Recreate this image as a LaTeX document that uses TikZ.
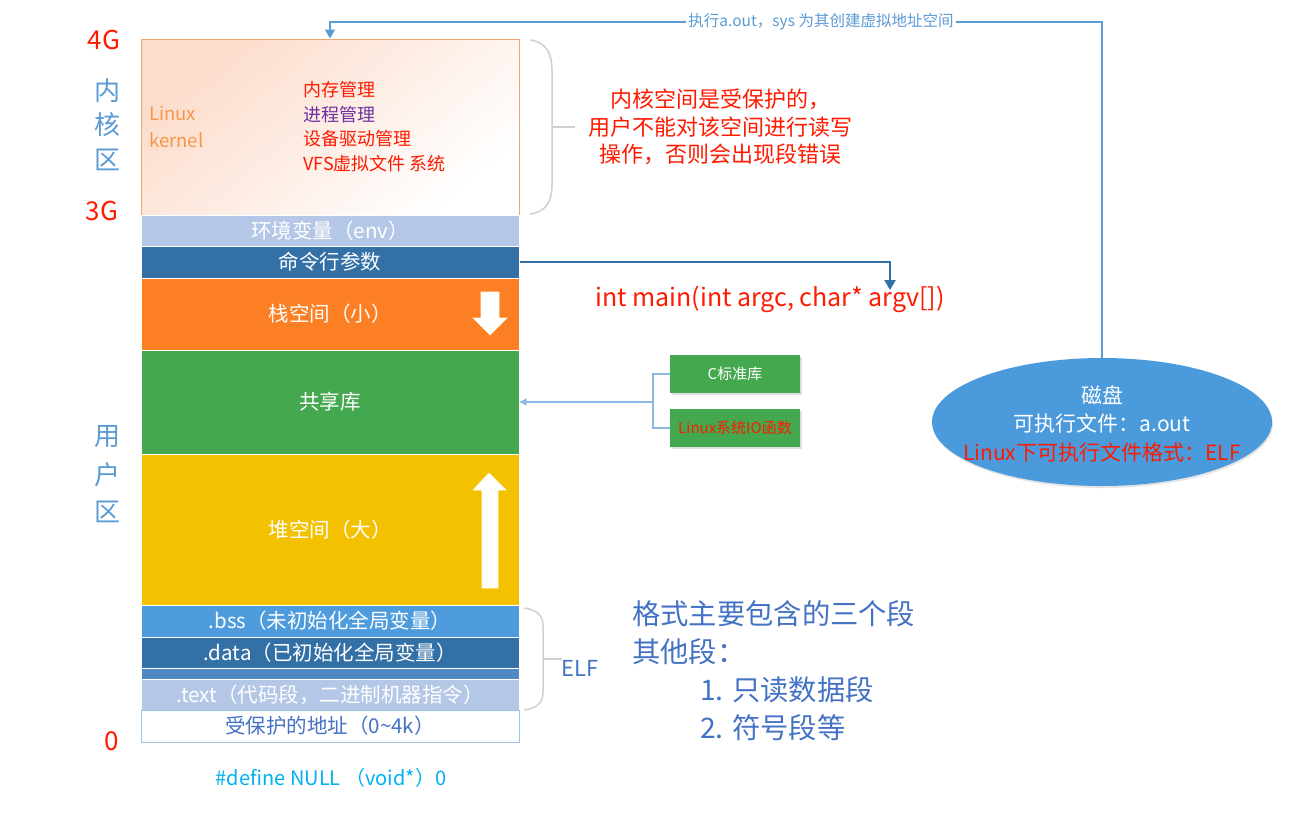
\documentclass[tikz,border=0pt]{standalone}
\usepackage{fontspec}
\setmainfont{Noto Sans CJK SC}
\usetikzlibrary{shapes.geometric,shadows,arrows.meta}
\definecolor{kborder}{HTML}{F4A36C}
\definecolor{kfill}{HTML}{FCDCCB}
\definecolor{lblue}{HTML}{B4C7E7}
\definecolor{dblue}{HTML}{3270A5}
\definecolor{sorange}{HTML}{FD7F23}
\definecolor{sgreen}{HTML}{44A84F}
\definecolor{hyellow}{HTML}{F3C100}
\definecolor{bssblue}{HTML}{4E9CDD}
\definecolor{thinblue}{HTML}{5088C4}
\definecolor{pborder}{HTML}{9DC3E6}
\definecolor{tblue}{HTML}{4472C4}
\definecolor{zblue}{HTML}{5B9BD5}
\definecolor{cyanb}{HTML}{00B0F0}
\definecolor{kred}{HTML}{FF1A00}
\definecolor{kpurple}{HTML}{7030A0}
\definecolor{korange}{HTML}{F79646}
\definecolor{diskblue}{HTML}{4A9ADC}
\definecolor{bracegray}{HTML}{D0D0D0}
\newcommand{\fs}[1]{\fontsize{#1}{#1}\selectfont}
\begin{document}
\begin{tikzpicture}[x=1pt,y=-1pt,
  band/.style={draw=white, line width=1pt, minimum width=378pt, inner sep=0pt, text=white, font=\fs{20.5}},
  zone/.style={text=zblue, font=\fs{26}},
  mark4g/.style={text=kred, font=\fs{26}},
  klist/.style={anchor=west, inner sep=0pt, text=kred, font=\fs{18}},
  rtext/.style={anchor=west, inner sep=0pt, text=tblue, font=\fs{28.3}},
  brace/.style={draw=bracegray, line width=1.5pt},
  libbox/.style={fill=sgreen, minimum width=130pt, minimum height=38pt, inner sep=0pt, font=\fs{15}, drop shadow={opacity=0.25, shadow xshift=2pt, shadow yshift=-2pt}},
  libline/.style={draw=zblue!70, line width=1.2pt},
  whitearrow/.style={fill=white, draw=white!90!yellow, line width=0.6pt},
  disktext/.style={text=white, font=\fs{21}, inner sep=0pt}
]
\useasboundingbox (0,0) rectangle (1303,817);
\fill[white] (0,0) rectangle (1303,817);

% kernel box
\node[draw=kborder, line width=1pt, minimum width=378pt, minimum height=176pt, inner sep=0pt,
      top color=kfill, bottom color=white, shading angle=40] (kernel) at (330,127) {};
\node[anchor=west, inner sep=0pt, text=korange, font=\fs{18.5}] (klinux) at (149,113) {Linux};
\node[anchor=west, inner sep=0pt, text=korange, font=\fs{18.5}] (kkernel) at (149,140) {kernel};
\node[klist] (k1) at (303,90) {内存管理};
\node[klist, text=kpurple] (k2) at (303,115) {进程管理};
\node[klist] (k3) at (303,139) {设备驱动管理};
\node[klist] (k4) at (303,164) {VFS虚拟文件 系统};

% bands
\node[band, fill=lblue, minimum height=31pt] (env) at (330,230.5) {环境变量（env）};
\node[band, fill=dblue, minimum height=32pt] (cmd) at (330,262) {命令行参数};
\node[band, fill=sorange, minimum height=72pt] (stack) at (330,314) {栈空间（小）};
\node[band, fill=sgreen, minimum height=104pt] (shared) at (330,402) {共享库};
\node[band, fill=hyellow, minimum height=151pt] (heap) at (330,529.5) {堆空间（大）};
\node[band, fill=bssblue, minimum height=32pt] (bss) at (330,621) {.bss（未初始化全局变量）};
\node[band, fill=dblue, minimum height=31pt] (data) at (330,652.5) {.data（已初始化全局变量）};
\node[band, fill=thinblue, minimum height=11pt] (thin) at (330,673.5) {};
\node[band, fill=lblue, minimum height=31pt] (text) at (330,694.5) {.text（代码段，二进制机器指令）};
\node[band, fill=white, draw=pborder, text=tblue, minimum height=32pt] (prot) at (330,726) {受保护的地址（0\textasciitilde 4k）};

% white arrows
\draw[whitearrow] (481,292) -- (499,292) -- (499,318) -- (507,318) -- (490,335) -- (473,318) -- (481,318) -- cycle;
\draw[whitearrow] (482,588) -- (498,588) -- (498,490) -- (506,490) -- (489,473) -- (473,490) -- (482,490) -- cycle;

% left labels
\node[mark4g] (l4g) at (104,40) {4G};
\node[mark4g] (l3g) at (102,211) {3G};
\node[mark4g] (l0) at (112,741) {0};
\node[zone] (z1) at (107,91) {内};
\node[zone] (z2) at (107,125) {核};
\node[zone] (z3) at (107,160) {区};
\node[zone] (u1) at (107,437) {用};
\node[zone] (u2) at (107,475) {户};
\node[zone] (u3) at (107,512) {区};
\node[text=cyanb, font=\fs{20}] (null) at (331,778) {\#define NULL （void*）0};

% kernel brace
\draw[brace] (530,40) .. controls (547,42) and (552,55) .. (552,70) -- (552,185) .. controls (552,200) and (547,212) .. (530,214);
\draw[brace] (552,127) -- (575,127);
\node[align=center, text=kred, font=\fontsize{22}{27.5}\selectfont] (kwarn) at (720,127) {内核空间是受保护的，\\用户不能对该空间进行读写\\操作，否则会出现段错误};

% ELF brace
\draw[brace] (524,608) .. controls (538,610) and (543,616) .. (543,626) -- (543,692) .. controls (543,702) and (538,708) .. (524,710);
\draw[brace] (543,659) -- (562,659);
\node[text=tblue, font=\fs{22}] (elf) at (580,668) {ELF};

% right text
\node[rtext] (r1) at (632,614) {格式主要包含的三个段};
\node[rtext] (r2) at (632,652) {其他段：};
\node[rtext] (r3) at (700,690) {1. 只读数据段};
\node[rtext] (r4) at (700,728) {2. 符号段等};

% main signature
\node[text=kred, font=\fs{25}] (mainsig) at (770,299) {int main(int argc, char* argv[])};
\coordinate (maintip) at (890,290);
\draw[dblue, line width=2pt, -{Triangle[length=10pt,width=11pt]}] (cmd.east) -| (maintip);

% libraries
\node[libbox, text=white] (cstd) at (735,374) {C标准库};
\node[libbox, text=kred] (linuxio) at (735,428) {Linux系统IO函数};
\coordinate (br) at (653,402);
\draw[libline] (cstd.west) -| (br) |- (linuxio.west);
\draw[libline, -{Triangle[length=7pt,width=7pt]}] (br) -- (shared.east);

% disk
\node[ellipse, fill=diskblue, minimum width=340pt, minimum height=128pt, inner sep=0pt,
      drop shadow={opacity=0.2, shadow xshift=1pt, shadow yshift=-2pt}] (disk) at (1102,422) {};
\node[disktext] (d1) at (1102,395) {磁盘};
\node[disktext] (d2) at (1102,423) {可执行文件：a.out};
\node[disktext, text=kred] (d3) at (1102,452) {Linux下可执行文件格式：ELF};

% top connector
\coordinate (tr) at (1102,22);
\coordinate (tl) at (330,22);
\draw[zblue, line width=1.2pt, -{Triangle[length=9pt,width=10pt]}] (disk.north) -- (tr) -- (tl) -- (kernel.north);
\node[fill=white, inner sep=2pt, text=zblue, font=\fs{15.5}] (toplabel) at (821,22) {执行a.out，sys 为其创建虚拟地址空间};
\end{tikzpicture}
\end{document}
